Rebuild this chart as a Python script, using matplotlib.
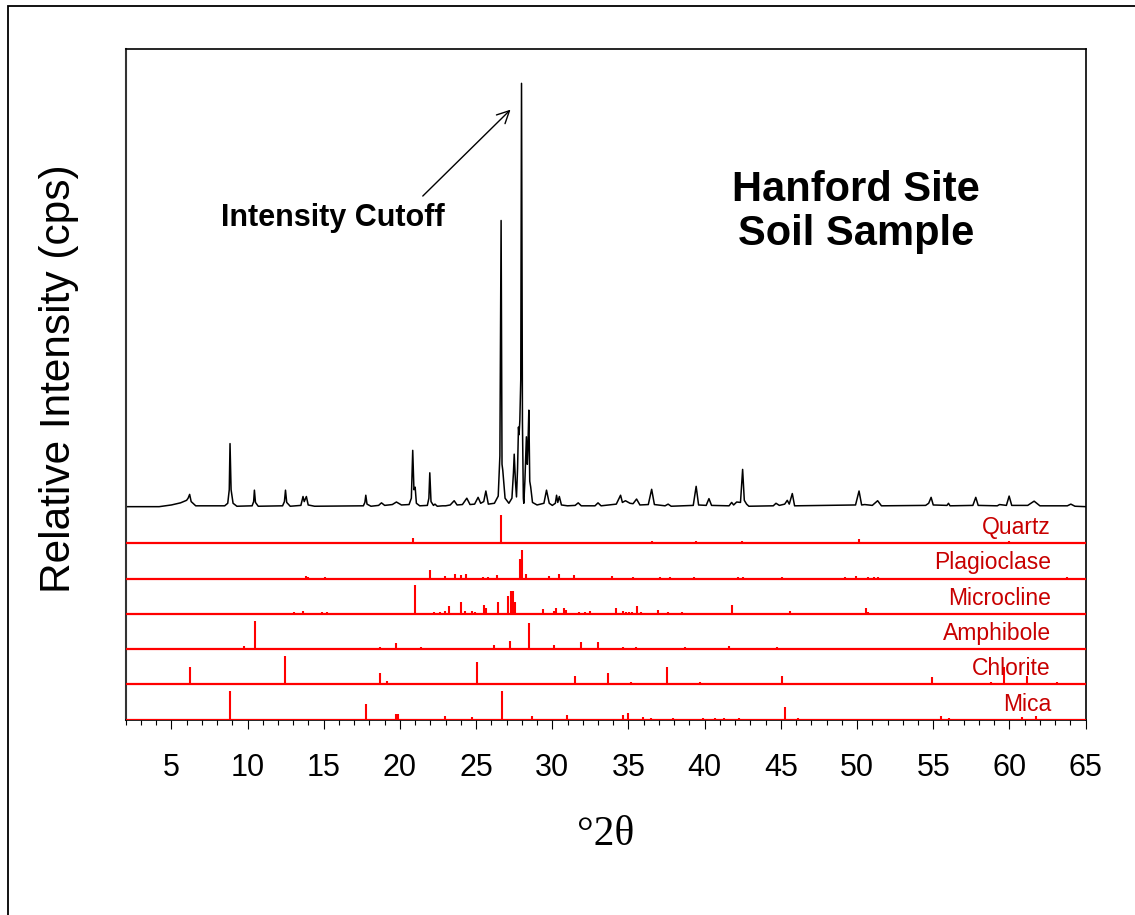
import numpy as np
import matplotlib
matplotlib.use("Agg")
import matplotlib.pyplot as plt
from matplotlib.patches import Rectangle
from matplotlib.ticker import MultipleLocator
import matplotlib.transforms as mtransforms

plt.rcParams['font.family'] = ['Liberation Sans', 'DejaVu Sans']

scan_points = [
    (2.0, 0.0), (4.2, 0.0), (5.0, 0.4), (5.6, 0.9), (6.0, 1.5), (6.1, 2.0),
    (6.2, 2.9), (6.3, 1.2), (6.6, 0.2), (8.5, 0.2), (8.7, 0.8), (8.8, 4.0),
    (8.85, 14.9), (8.92, 4.0), (9.05, 0.8), (9.3, 0.1), (10.3, 0.2), (10.4, 1.2),
    (10.45, 3.9), (10.52, 1.0), (10.7, 0.1), (12.3, 0.2), (12.42, 1.2), (12.49, 3.9),
    (12.57, 1.0), (12.8, 0.1), (13.5, 0.3), (13.64, 2.4), (13.72, 1.2), (13.86, 2.4),
    (13.98, 0.4), (14.4, 0.1), (17.6, 0.2), (17.7, 1.0), (17.76, 2.7), (17.84, 0.6),
    (18.1, 0.1), (18.6, 0.3), (18.79, 0.9), (19.0, 0.3), (19.5, 0.5), (19.77, 1.1),
    (20.1, 0.4), (20.6, 0.5), (20.75, 2.0), (20.84, 13.3), (20.92, 4.0), (21.0, 4.6),
    (21.08, 0.8), (21.3, 0.2), (21.8, 0.3), (21.9, 2.0), (21.96, 8.0), (22.04, 1.2),
    (22.2, 0.3), (22.3, 0.6), (22.45, 0.1), (22.8, 0.2), (23.0, 0.2), (23.3, 0.4),
    (23.56, 1.4), (23.75, 0.4), (24.1, 0.5), (24.39, 2.0), (24.6, 0.5), (24.9, 0.6),
    (25.13, 2.2), (25.3, 0.8), (25.5, 1.2), (25.64, 3.7), (25.8, 0.6), (26.2, 0.8),
    (26.45, 2.5), (26.56, 12.0), (26.64, 67.6), (26.70, 10.0), (26.75, 8.6), (26.9, 2.0),
    (27.15, 0.8), (27.35, 2.0), (27.45, 8.0), (27.5, 12.4), (27.58, 6.0), (27.65, 2.3),
    (27.72, 9.0), (27.78, 18.8), (27.82, 17.0), (27.87, 20.4), (27.93, 30.0), (27.98, 100.0),
    (28.04, 20.0), (28.1, 2.0), (28.13, 0.8), (28.2, 6.0), (28.3, 16.5), (28.36, 10.0),
    (28.4, 14.0), (28.46, 22.8), (28.52, 6.0), (28.58, 4.7), (28.7, 1.0), (29.0, 0.4),
    (29.45, 0.8), (29.62, 3.9), (29.8, 0.8), (30.0, 0.3), (30.2, 0.8), (30.28, 2.7),
    (30.36, 1.0), (30.46, 2.4), (30.6, 0.4), (31.0, 0.2), (31.5, 0.3), (31.7, 0.9),
    (31.9, 0.2), (32.8, 0.2), (33.0, 0.9), (33.2, 0.2), (34.2, 0.6), (34.48, 2.7),
    (34.6, 1.0), (34.8, 1.4), (35.1, 0.8), (35.3, 0.7), (35.53, 1.8), (35.75, 0.4),
    (36.3, 0.5), (36.52, 4.1), (36.7, 0.5), (37.4, 0.2), (37.6, 0.6), (37.8, 0.1),
    (39.25, 0.3), (39.44, 4.8), (39.6, 0.4), (40.1, 0.3), (40.28, 1.9), (40.45, 0.3),
    (41.6, 0.2), (41.77, 1.0), (41.9, 0.4), (42.1, 1.1), (42.35, 1.0), (42.49, 8.8),
    (42.6, 1.5), (42.75, 0.6), (42.9, 0.1), (44.5, 0.2), (44.68, 0.8), (44.9, 0.3),
    (45.25, 0.6), (45.42, 1.5), (45.55, 0.6), (45.75, 3.1), (45.9, 0.2), (49.9, 0.4),
    (50.13, 3.7), (50.3, 0.4), (50.5, 0.5), (51.0, 0.3), (51.35, 1.4), (51.6, 0.2),
    (54.5, 0.3), (54.7, 0.8), (54.86, 2.2), (55.0, 0.4), (55.9, 0.3), (56.0, 0.8),
    (56.1, 0.2), (57.6, 0.3), (57.79, 2.2), (57.95, 0.3), (59.2, 0.2), (59.35, 0.5),
    (59.8, 0.3), (59.98, 2.5), (60.15, 0.3), (61.2, 0.3), (61.62, 1.3), (62.0, 0.2),
    (63.8, 0.2), (64.03, 0.6), (64.3, 0.1), (65.0, 0.0),
]

# reference stick patterns (2theta, relative intensity)
quartz_tt = [20.86, 26.64, 36.54, 39.46, 40.29, 42.45, 45.79, 50.14, 50.6, 54.87, 55.33, 57.23, 59.96, 64.03]
quartz_I = [18, 100, 9, 8, 3, 7, 5, 15, 3, 5, 2, 2, 9, 3]

plag_tt = [13.86, 13.95, 15.07, 22.0, 22.93, 23.6, 23.98, 24.33, 25.46, 25.79, 26.4,
           27.85, 28.02, 28.3, 29.8, 30.41, 31.41, 33.89, 35.3, 36.7, 37.1, 37.7,
           38.5, 38.9, 39.3, 39.7, 40.9, 42.2, 42.5, 42.8, 44.8, 45.1, 45.4, 45.7,
           46.8, 48.3, 49.2, 49.9, 50.7, 51.1, 51.4, 53.1, 54.3, 55.3, 57.9, 58.3,
           58.7, 60.2, 61.8, 62.2, 63.8]
plag_I = [8, 4, 4, 29, 9, 16, 14, 17, 6, 5, 13,
          70, 100, 17, 10, 16, 12, 9, 5, 3, 4, 4,
          3, 3, 4, 3, 3, 4, 4, 3, 3, 4, 3, 3,
          3, 3, 4, 10, 4, 6, 4, 3, 3, 3, 3, 3,
          3, 3, 3, 3, 7]

micro_tt = [13.08, 13.62, 14.87, 15.22, 19.25, 21.02, 22.25, 22.66, 22.99, 23.21,
            23.98, 24.3, 24.7, 24.92, 25.5, 25.66, 26.41, 27.06, 27.32, 27.43,
            27.52, 29.42, 30.08, 30.23, 30.74, 30.89, 31.76, 32.14, 32.47, 34.17,
            34.61, 34.85, 35.05, 35.2, 35.57, 35.85, 36.95, 37.6, 38.49, 39.1,
            39.98, 40.4, 41.81, 42.6, 42.9, 43.3, 43.7, 44.1, 44.6, 45.6,
            45.9, 46.3, 46.8, 47.2, 47.7, 48.2, 48.6, 49.2, 49.6, 50.2,
            50.57, 50.7, 51.0, 51.4, 52.6]
micro_I = [6, 9, 6, 5, 2, 100, 8, 6, 9, 26,
           41, 10, 10, 6, 30, 21, 41, 61, 81, 81,
           41, 16, 10, 21, 21, 14, 5, 6, 9, 22,
           10, 8, 6, 8, 26, 6, 14, 5, 6, 4,
           4, 4, 30, 4, 3, 3, 4, 3, 4, 10,
           4, 3, 4, 3, 3, 3, 4, 3, 3, 3,
           19, 8, 4, 3, 2]

amph_tt = [9.79, 10.47, 18.2, 18.66, 19.73, 21.37, 22.95, 26.16, 27.21, 28.48, 30.12,
           31.87, 32.99, 34.61, 35.49, 37.79, 38.7, 39.36, 39.76, 41.62, 44.72]
amph_I = [12, 100, 5, 7, 21, 8, 5, 13, 30, 90, 13,
          26, 26, 9, 7, 5, 7, 5, 5, 12, 7]

chlor_tt = [6.2, 12.44, 18.72, 19.13, 25.05, 31.48, 33.65, 34.61, 35.16, 37.54, 39.69,
            43.69, 45.05, 48.07, 51.9, 54.94, 58.8, 59.65, 61.13, 63.1, 64.79]
chlor_I = [60, 100, 40, 11, 80, 30, 40, 4, 9, 60, 9,
           4, 30, 4, 4, 26, 9, 60, 30, 9, 4]

mica_tt = [8.85, 17.76, 19.73, 19.86, 22.94, 24.7, 26.71, 28.68, 30.98, 34.61, 34.94,
           35.92, 36.5, 37.9, 39.9, 40.7, 41.3, 42.27, 45.3, 46.1, 48.0, 49.5,
           55.5, 56.06, 57.0, 59.6, 60.85, 61.73]
mica_I = [100, 56, 21, 21, 12, 9, 100, 12, 18, 16, 25,
          10, 5, 5, 5, 5, 5, 7, 43, 5, 4, 4,
          12, 5, 4, 4, 9, 14]

phase_names = ['Quartz', 'Plagioclase', 'Microcline', 'Amphibole', 'Chlorite', 'Mica']
phase_tt = [quartz_tt, plag_tt, micro_tt, amph_tt, chlor_tt, mica_tt]
phase_I = [quartz_I, plag_I, micro_I, amph_I, chlor_I, mica_I]

# layout: each stick panel is 1 unit tall, scan sits on top
scan_offset = 6.04
scan_scale = 12.0 / 100
stick_scale = 0.81 / 100

fig = plt.figure(figsize=(11.35, 9.15), dpi=100)
ax = fig.add_axes([0.1107, 0.2134, 0.8458, 0.7333])

tt, inten = zip(*scan_points)
ax.plot(tt, scan_offset + np.array(inten) * scan_scale, color='black', lw=1.1)

n = len(phase_names)
blend = mtransforms.blended_transform_factory(ax.transAxes, ax.transData)
for i, (name, x, h) in enumerate(zip(phase_names, phase_tt, phase_I)):
    base = n - 1 - i
    ax.axhline(base, color='red', lw=1.6, zorder=3)
    ax.vlines(x, base, base + np.array(h) * stick_scale, color='red', lw=1.5, zorder=3)
    ax.text(0.9638, base + 0.26, name, transform=blend, ha='right', va='baseline',
            color='#C80000', fontsize=16.5)

ax.set_xlim(2, 65)
ax.set_ylim(0, 19.02)
ax.set_yticks([])
ax.xaxis.set_major_locator(MultipleLocator(5))
ax.xaxis.set_minor_locator(MultipleLocator(1))
ax.set_xticks(np.arange(5, 66, 5))
ax.tick_params(axis='x', which='major', direction='out', length=6.7, width=0.8,
               labelsize=22, pad=17)
ax.tick_params(axis='x', which='minor', direction='out', length=3.8, width=0.8)

for side in ['top', 'right', 'bottom']:
    ax.spines[side].set_linewidth(1.2)
ax.spines['left'].set_linewidth(1.5)
ax.spines['left'].set_color('#333333')

ax.set_xlabel('°2θ', family=['Liberation Serif', 'DejaVu Serif'], fontsize=30)
ax.xaxis.label.set_va('center')
ax.xaxis.set_label_coords(0.5, -0.172)
ax.set_ylabel('Relative Intensity (cps)', fontsize=30.5)
ax.yaxis.label.set_va('center')
ax.yaxis.set_label_coords(-0.0695, 0.508)

ax.text(0.7607, 0.7566, 'Hanford Site\nSoil Sample', transform=ax.transAxes,
        ha='center', va='center', fontsize=30, fontweight='bold', linespacing=1.12)

ax.annotate('', xy=(27.39, 17.35), xytext=(21.37, 14.79),
            arrowprops=dict(arrowstyle='->', lw=1.0, color='black', mutation_scale=22))
ax.text(0.099, 0.7364, 'Intensity Cutoff', transform=ax.transAxes, ha='left',
        va='baseline', fontsize=22, fontweight='bold')

fig.add_artist(Rectangle((0.0068, -0.05), 1.2, 0.9938 + 0.05, transform=fig.transFigure,
                         fill=False, lw=1.3, edgecolor='black', clip_on=False))

fig.savefig('out.png', dpi=100)
